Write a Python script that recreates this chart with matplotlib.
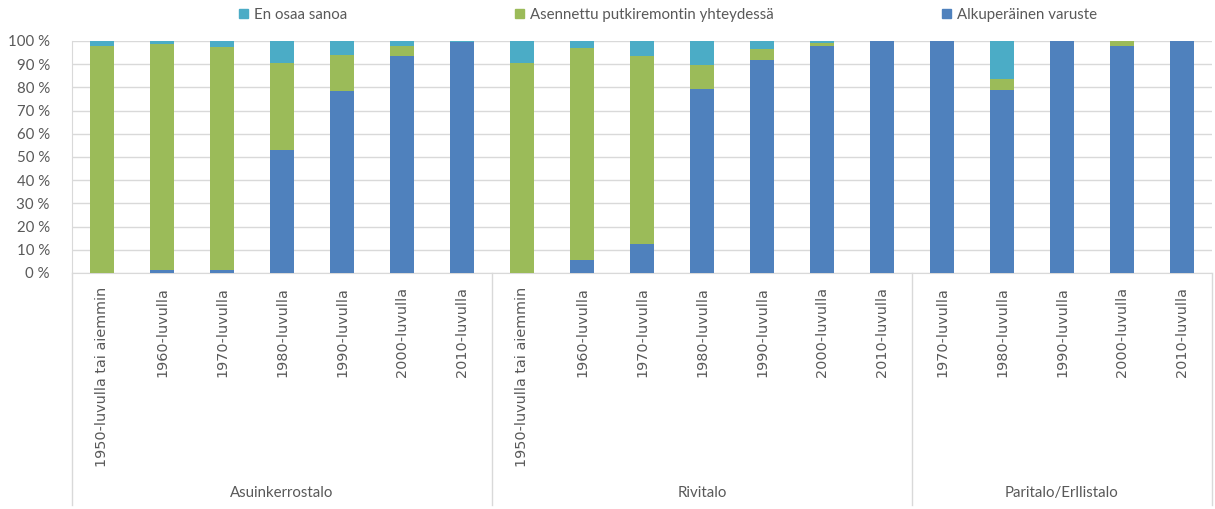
import matplotlib
matplotlib.use("Agg")
import matplotlib.pyplot as plt
from matplotlib.patches import Patch
import matplotlib.transforms as mtransforms

# Building types and construction decades
groups = ["Asuinkerrostalo", "Rivitalo", "Paritalo/Erllistalo"]
decades_by_group = [
    ["1950-luvulla tai aiemmin", "1960-luvulla", "1970-luvulla", "1980-luvulla",
     "1990-luvulla", "2000-luvulla", "2010-luvulla"],
    ["1950-luvulla tai aiemmin", "1960-luvulla", "1970-luvulla", "1980-luvulla",
     "1990-luvulla", "2000-luvulla", "2010-luvulla"],
    ["1970-luvulla", "1980-luvulla", "1990-luvulla", "2000-luvulla", "2010-luvulla"],
]

# Shares (%) per category, stacked bottom to top
alkuperainen = [0, 1.5, 1.5, 53, 78.5, 93.5, 99.5,
                0, 5.6, 12.4, 79.2, 91.8, 98, 100,
                100, 78.9, 100, 97.7, 100]
asennettu = [98, 97, 96, 37.7, 15.3, 4.5, 0,
             90.4, 91.2, 81.1, 10.6, 4.8, 1.3, 0,
             0, 4.6, 0, 2.3, 0]
en_osaa = [2, 1.5, 2.5, 9.3, 6.2, 2, 0.5,
           9.6, 3.2, 6.5, 10.2, 3.4, 0.7, 0,
           0, 16.5, 0, 0, 0]

series_names = ["En osaa sanoa", "Asennettu putkiremontin yhteydessä", "Alkuperäinen varuste"]
c_blue, c_green, c_teal = "#4F81BD", "#9BBB59", "#4BACC6"
text_col = "#595959"
grid_col = "#D9D9D9"

W, H = 1215, 509
fig = plt.figure(figsize=(W / 100, H / 100), dpi=100)
ax = fig.add_axes([72 / W, (H - 273) / H, (1212 - 72) / W, (273 - 41) / H])

labels = [d for g in decades_by_group for d in g]
x = list(range(len(labels)))
bw = 0.39
bottom2 = [a + b for a, b in zip(alkuperainen, asennettu)]
ax.bar(x, alkuperainen, bw, color=c_blue, zorder=3)
ax.bar(x, asennettu, bw, bottom=alkuperainen, color=c_green, zorder=3)
ax.bar(x, en_osaa, bw, bottom=bottom2, color=c_teal, zorder=3)

ax.set_xlim(-0.5, len(labels) - 0.5)
ax.set_ylim(0, 100)
ax.set_yticks(range(0, 101, 10))
ax.set_yticklabels([f"{v} %" for v in range(0, 101, 10)],
                   fontfamily="Lato", fontsize=10.8, color=text_col)
ax.yaxis.grid(True, color=grid_col, linewidth=1, zorder=0)
ax.tick_params(axis="y", length=0, pad=16)
ax.tick_params(axis="x", length=0, pad=10)
ax.set_xticks(x)
ax.set_xticklabels(labels, rotation=90, va="top", ha="center",
                   fontfamily="DejaVu Sans", fontsize=10.4, color=text_col)

for s in ["top", "right"]:
    ax.spines[s].set_visible(False)
ax.spines["left"].set_color(grid_col)
ax.spines["bottom"].set_color(grid_col)

# Group separators and group labels below the category axis
trans = mtransforms.blended_transform_factory(ax.transData, fig.transFigure)
y_low = 4 / H
y_axis = (H - 273) / H
start = 0
bounds = [-0.5]
for g, decs in zip(groups, decades_by_group):
    end = start + len(decs)
    bounds.append(end - 0.5)
    fig.text((start + end - 1) / 2, (H - 493) / H, g, transform=trans,
             ha="center", va="center", fontfamily="Lato", fontsize=10.8,
             color=text_col)
    start = end
for b in bounds:
    fig.add_artist(plt.Line2D([b, b], [y_low, y_axis], transform=trans,
                              color=grid_col, linewidth=1))

handles = [Patch(color=c_teal), Patch(color=c_green), Patch(color=c_blue)]
fig.legend(handles, series_names, loc="center", bbox_to_anchor=(668 / W, (H - 15) / H),
           ncol=3, frameon=False, handlelength=0.6, handleheight=0.6,
           handletextpad=0.4, columnspacing=11.2,
           prop={"family": "Lato", "size": 10.8}, labelcolor=text_col)

fig.savefig("out.png", dpi=100, facecolor="white")
